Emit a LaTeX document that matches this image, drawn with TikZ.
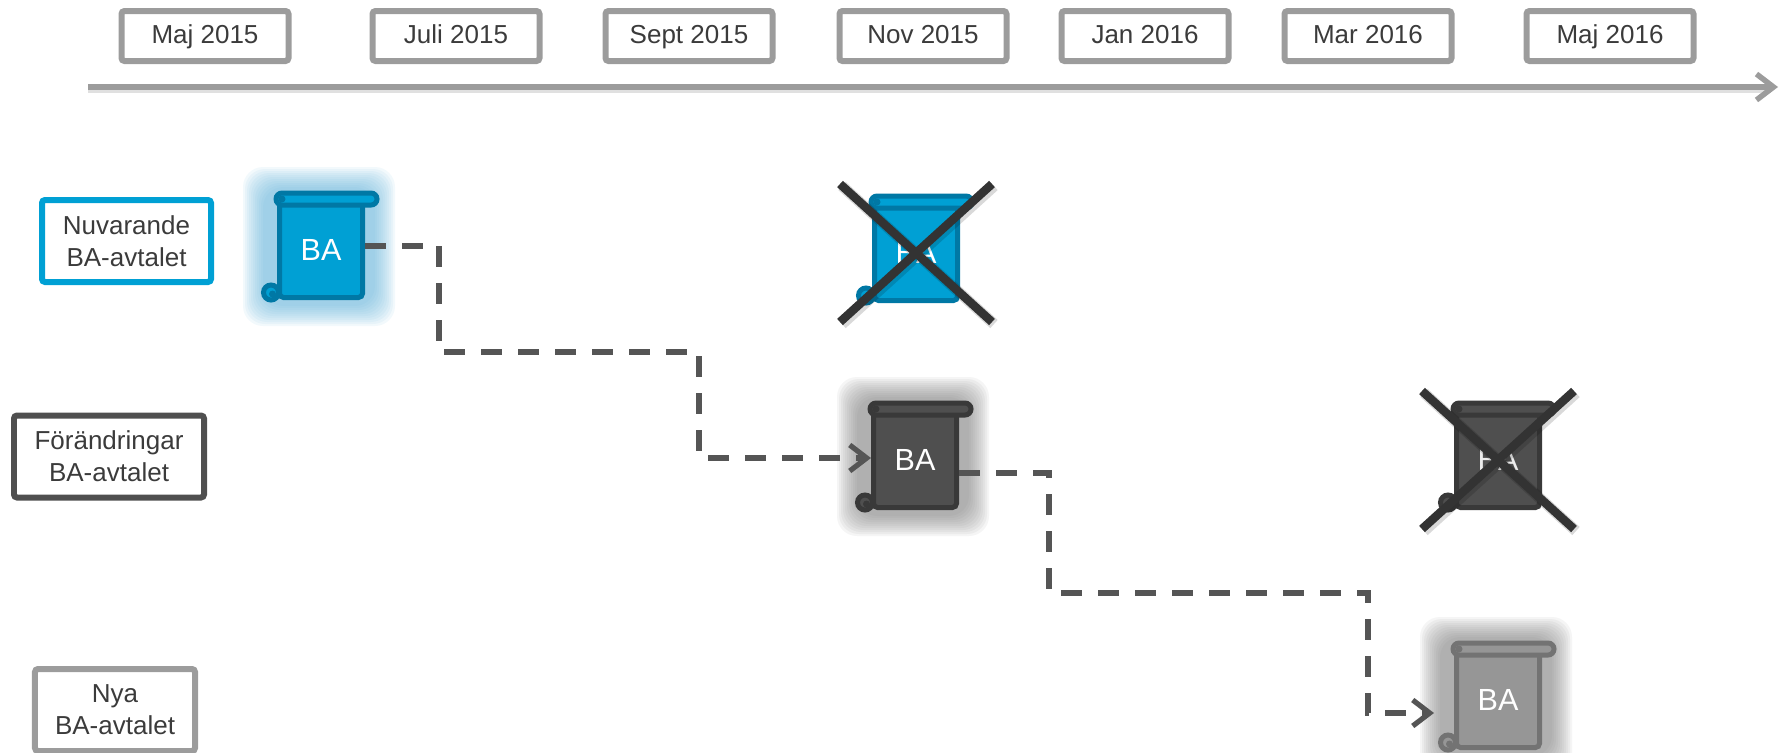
\documentclass[tikz,border=0pt]{standalone}
\usepackage{fontspec}
\setmainfont{Liberation Sans}
\usepackage{tikz}
\usetikzlibrary{positioning,arrows.meta,calc,backgrounds}

\definecolor{bablue}{HTML}{00A0D4}
\definecolor{babluedark}{HTML}{0078A5}
\definecolor{babglow}{HTML}{5FB0D8}
\definecolor{badark}{HTML}{4F4F4F}
\definecolor{badarkline}{HTML}{393939}
\definecolor{bamid}{HTML}{969696}
\definecolor{bamidline}{HTML}{737373}
\definecolor{grayglow}{HTML}{7A7A7A}
\definecolor{dategray}{HTML}{9C9C9C}
\definecolor{conngray}{HTML}{555555}
\definecolor{crossgray}{HTML}{333333}
\definecolor{labeltext}{HTML}{3B3B3B}

% rotoli del documento
\newcommand{\barolls}[3]{%
  \filldraw[fill=#2, draw=#3, line width=0.05cm] ($(#1.south west)+(-0.06,0.075)$) circle (0.075);
  \fill[#3] ($(#1.south west)+(-0.045,0.06)$) circle (0.035);
  \filldraw[fill=#2, draw=#3, line width=0.05cm, rounded corners=0.06cm] ($(#1.north west)+(-0.01,0.07)$) rectangle ($(#1.north east)+(0.12,-0.05)$);
  \fill[#3] ($(#1.north west)+(0.05,0.01)$) circle (0.035);
}
% alone
\newcommand{\baglow}[2]{%
  \begin{scope}[on background layer]
    \foreach \s in {0.24,0.22,...,0.02}
      \fill[#2, opacity=0.08, rounded corners=0.2cm] ($(#1.north west)+(-0.1-\s,0.09+\s)$) rectangle ($(#1.south east)+(0.06+\s,-0.02-\s)$);
  \end{scope}
}
% croce
\newcommand{\bacross}[1]{%
  \draw[crossshade] ($(#1.center)+(-0.74,0.67)$) -- ($(#1.center)+(0.78,-0.71)$);
  \draw[crossshade] ($(#1.center)+(0.78,0.67)$) -- ($(#1.center)+(-0.74,-0.71)$);
  \draw[crossline] ($(#1.center)+(-0.76,0.69)$) -- ($(#1.center)+(0.76,-0.69)$);
  \draw[crossline] ($(#1.center)+(0.76,0.69)$) -- ($(#1.center)+(-0.76,-0.69)$);
}

\begin{document}
\begin{tikzpicture}[
    datebox/.style={rectangle, draw=dategray, line width=0.06cm, rounded corners=0.03cm, minimum width=1.67cm, minimum height=0.50cm, inner sep=0pt, text height=5.4pt, text depth=1.2pt, text=labeltext, font=\fontsize{7.4}{9.1}\selectfont},
    rowbox/.style={rectangle, line width=0.06cm, rounded corners=0.03cm, minimum height=0.82cm, inner sep=0pt, align=center, text=labeltext, font=\fontsize{7.4}{9.1}\selectfont},
    scrollbody/.style={rectangle, line width=0.05cm, rounded corners=0.04cm, minimum width=0.83cm, minimum height=0.95cm, inner sep=0pt, text=white, font=\fontsize{8.7}{10}\selectfont},
    dashconn/.style={draw=conngray, line width=0.052cm, dash pattern=on 0.21cm off 0.16cm, -{Straight Barb[length=0.17cm,width=0.26cm]}},
    crossline/.style={draw=crossgray, line width=0.085cm},
    crossshade/.style={draw=black, opacity=0.15, line width=0.11cm}]
    \useasboundingbox (0,0) rectangle (17.89,7.52);

    % definisci le date
    \node (maj15) [datebox] at (2.05,7.16) {Maj 2015};
    \node (jul15) [datebox] at (4.56,7.16) {Juli 2015};
    \node (sep15) [datebox] at (6.89,7.16) {Sept 2015};
    \node (nov15) [datebox] at (9.23,7.16) {Nov 2015};
    \node (jan16) [datebox] at (11.45,7.16) {Jan 2016};
    \node (mar16) [datebox] at (13.68,7.16) {Mar 2016};
    \node (maj16) [datebox] at (16.10,7.16) {Maj 2016};

    % asse del tempo
    \coordinate (tstart) at (0.88,6.65);
    \coordinate (tend) at (17.78,6.65);
    \draw [black, opacity=0.12, line width=0.07cm] ([yshift=-0.025cm]tstart) -- ([yshift=-0.025cm,xshift=-0.1cm]tend);
    \draw [dategray, line width=0.055cm, -{Straight Barb[length=0.17cm,width=0.26cm]}] (tstart) -- (tend);

    % definisci le righe
    \node (nuv) [rowbox, draw=bablue, minimum width=1.69cm] at (1.265,5.11) {Nuvarande\\BA-avtalet};
    \node (for) [rowbox, draw=badark, minimum width=1.90cm] at (1.09,2.955) {Förändringar\\BA-avtalet};
    \node (nya) [rowbox, draw=dategray, minimum width=1.60cm] at (1.15,0.42) {Nya\\BA-avtalet};

    % definisci i documenti
    \node (ba1) [scrollbody, fill=bablue, draw=babluedark] at (3.21,5.02) {BA};
    \barolls{ba1}{bablue}{babluedark}
    \baglow{ba1}{babglow}

    \node (bax1) [scrollbody, fill=bablue, draw=babluedark] at (9.16,4.99) {BA};
    \barolls{bax1}{bablue}{babluedark}
    \bacross{bax1}

    \node (ba2) [scrollbody, fill=badark, draw=badarkline] at (9.15,2.92) {BA};
    \barolls{ba2}{badark}{badarkline}
    \baglow{ba2}{grayglow}

    \node (bax2) [scrollbody, fill=badark, draw=badarkline, text=white!85!gray] at (14.98,2.92) {BA};
    \barolls{bax2}{badark}{badarkline}
    \bacross{bax2}

    \node (ba3) [scrollbody, fill=bamid, draw=bamidline] at (14.98,0.52) {BA};
    \barolls{ba3}{bamid}{bamidline}
    \baglow{ba3}{grayglow}

    % definisci i collegamenti
    \draw [dashconn] ([yshift=0.04cm]ba1.east) -- ++(0.74,0) -- ++(0,-1.06) -- ++(2.60,0) |- ([yshift=0.02cm]ba2.west);
    \draw [dashconn, shorten >=0.2cm] ([yshift=-0.13cm]ba2.east) -- ++(0.90,0) -- ++(0,-1.20) -- ++(3.19,0) |- ([yshift=-0.13cm]ba3.west);
\end{tikzpicture}
\end{document}
